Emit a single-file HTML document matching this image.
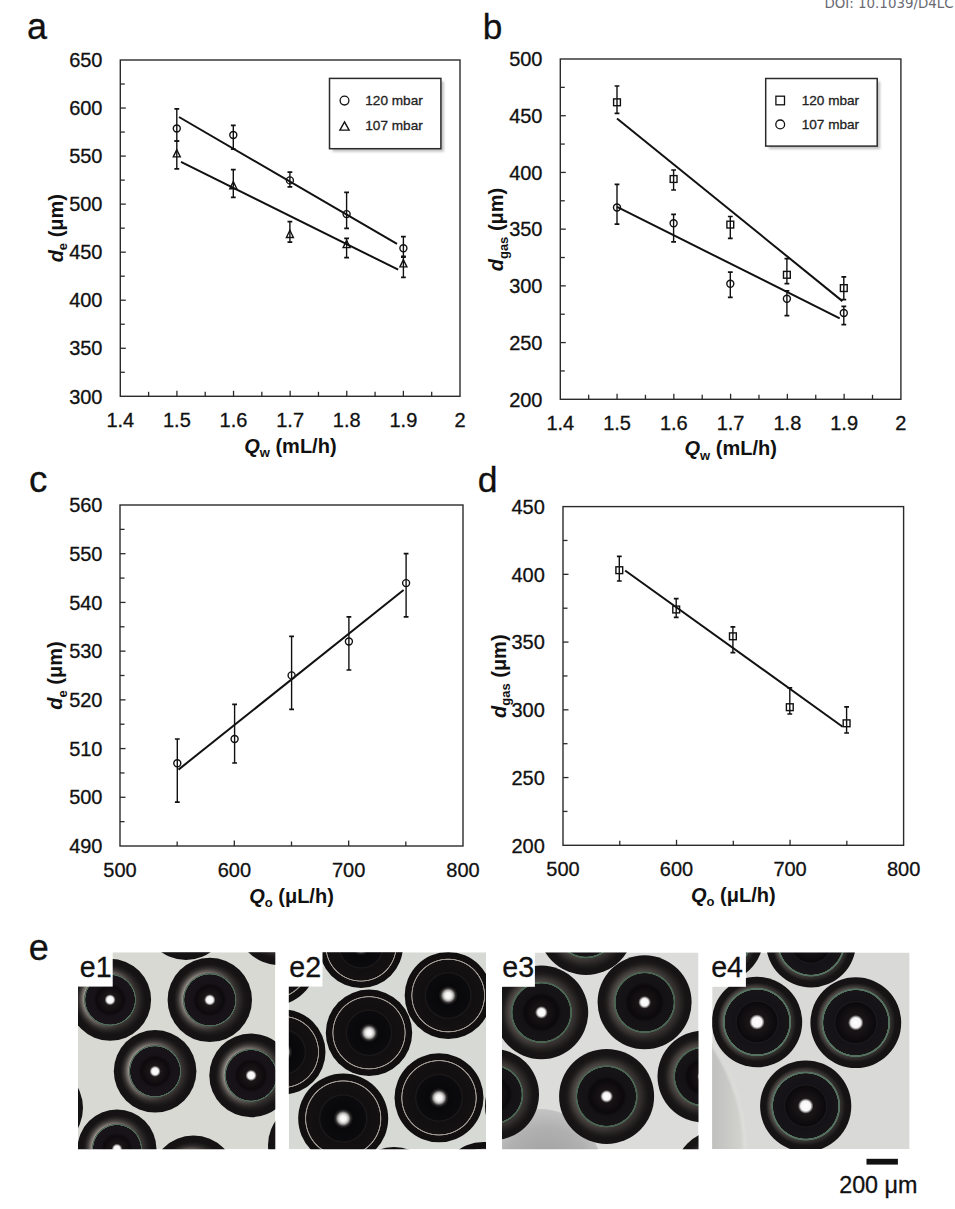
<!DOCTYPE html>
<html><head><meta charset="utf-8"><title>Figure</title>
<style>html,body{margin:0;padding:0;background:#fff;}body{width:955px;height:1209px;overflow:hidden;}svg{display:block;}text{stroke:#111;stroke-width:0.3px;paint-order:stroke;}</style>
</head><body>
<svg width="955" height="1209" viewBox="0 0 955 1209" font-family='"Liberation Sans", Arial, Helvetica, sans-serif' fill="#111">
<defs><filter id="blur" x="-10%" y="-10%" width="120%" height="120%"><feGaussianBlur stdDeviation="1.2"/></filter><linearGradient id="lhl" x1="0" y1="0.3" x2="1" y2="0.7"><stop offset="0.1" stop-color="#fff"/><stop offset="0.7" stop-color="#000"/></linearGradient><mask id="mhl" maskContentUnits="objectBoundingBox"><rect width="1" height="1" fill="url(#lhl)"/></mask><radialGradient id="g1" cx="0.5" cy="0.5" r="0.5"><stop offset="0" stop-color="#ffffff"/><stop offset="0.08" stop-color="#f6f4f4"/><stop offset="0.135" stop-color="#1c1618"/><stop offset="0.33" stop-color="#0d0a0d"/><stop offset="0.4" stop-color="#161217"/><stop offset="0.598" stop-color="#181419"/><stop offset="0.605" stop-color="#506c5a"/><stop offset="0.625" stop-color="#506c5a"/><stop offset="0.635" stop-color="#3a3634"/><stop offset="0.7" stop-color="#2e2a29"/><stop offset="0.78" stop-color="#1f1c1d"/><stop offset="0.86" stop-color="#161314"/><stop offset="1" stop-color="#141213"/></radialGradient><radialGradient id="h1" cx="0.5" cy="0.5" r="0.5"><stop offset="0" stop-color="#b8b0a8" stop-opacity="0"/><stop offset="0.625" stop-color="#b8b0a8" stop-opacity="0"/><stop offset="0.64" stop-color="#c4bcb4" stop-opacity="0.85"/><stop offset="0.69" stop-color="#b0a8a0" stop-opacity="0.55"/><stop offset="0.76" stop-color="#908880" stop-opacity="0.2"/><stop offset="0.84" stop-color="#807870" stop-opacity="0"/><stop offset="1" stop-color="#807870" stop-opacity="0"/></radialGradient><radialGradient id="g2" cx="0.5" cy="0.5" r="0.5"><stop offset="0" stop-color="#ffffff"/><stop offset="0.07" stop-color="#f2f0f0"/><stop offset="0.12" stop-color="#b4b0b0"/><stop offset="0.17" stop-color="#2e2c2c"/><stop offset="0.22" stop-color="#08070a"/><stop offset="0.5" stop-color="#0b0a0d"/><stop offset="0.52" stop-color="#1c1a1a"/><stop offset="0.55" stop-color="#110f10"/><stop offset="0.815" stop-color="#131111"/><stop offset="0.828" stop-color="#9e9893"/><stop offset="0.842" stop-color="#9e9893"/><stop offset="0.855" stop-color="#110f0f"/><stop offset="1" stop-color="#100e0e"/></radialGradient><radialGradient id="g3" cx="0.5" cy="0.5" r="0.5"><stop offset="0" stop-color="#ffffff"/><stop offset="0.08" stop-color="#f6f4f4"/><stop offset="0.135" stop-color="#191416"/><stop offset="0.35" stop-color="#0b090c"/><stop offset="0.42" stop-color="#151216"/><stop offset="0.612" stop-color="#171418"/><stop offset="0.62" stop-color="#4a6552"/><stop offset="0.648" stop-color="#4a6552"/><stop offset="0.658" stop-color="#3a3634"/><stop offset="0.72" stop-color="#312d2c"/><stop offset="0.8" stop-color="#221f1f"/><stop offset="0.88" stop-color="#171415"/><stop offset="1" stop-color="#151314"/></radialGradient><radialGradient id="h3" cx="0.5" cy="0.5" r="0.5"><stop offset="0" stop-color="#a09890" stop-opacity="0"/><stop offset="0.645" stop-color="#a09890" stop-opacity="0"/><stop offset="0.66" stop-color="#908880" stop-opacity="0.4"/><stop offset="0.74" stop-color="#807870" stop-opacity="0.2"/><stop offset="0.82" stop-color="#807870" stop-opacity="0"/><stop offset="1" stop-color="#807870" stop-opacity="0"/></radialGradient><radialGradient id="g4" cx="0.5" cy="0.5" r="0.5"><stop offset="0" stop-color="#ffffff"/><stop offset="0.11" stop-color="#f6f4f4"/><stop offset="0.17" stop-color="#1a1618"/><stop offset="0.44" stop-color="#0b090c"/><stop offset="0.46" stop-color="#1c191b"/><stop offset="0.49" stop-color="#141216"/><stop offset="0.71" stop-color="#181519"/><stop offset="0.718" stop-color="#557260"/><stop offset="0.75" stop-color="#557260"/><stop offset="0.762" stop-color="#332f2f"/><stop offset="0.8" stop-color="#2a2727"/><stop offset="0.87" stop-color="#171415"/><stop offset="1" stop-color="#141213"/></radialGradient><radialGradient id="h4" cx="0.5" cy="0.5" r="0.5"><stop offset="0" stop-color="#a09890" stop-opacity="0"/><stop offset="0.75" stop-color="#a09890" stop-opacity="0"/><stop offset="0.765" stop-color="#8a8078" stop-opacity="0.5"/><stop offset="0.82" stop-color="#807870" stop-opacity="0.2"/><stop offset="0.87" stop-color="#807870" stop-opacity="0"/><stop offset="1" stop-color="#807870" stop-opacity="0"/></radialGradient><radialGradient id="gsh" cx="0.55" cy="0.5" r="0.5"><stop offset="0" stop-color="#9c9c9c"/><stop offset="0.7" stop-color="#b0b0b0"/><stop offset="1" stop-color="#c4c4c4"/></radialGradient><linearGradient id="garc" gradientUnits="userSpaceOnUse" x1="712" y1="0" x2="748" y2="0"><stop offset="0" stop-color="#c0c0be"/><stop offset="0.5" stop-color="#cacac7"/><stop offset="1" stop-color="#d6d6d2"/></linearGradient></defs>
<text x="27" y="39.3" font-size="36">a</text>
<text x="482.8" y="39" font-size="35.2">b</text>
<text x="29" y="492.2" font-size="36.8">c</text>
<text x="477.8" y="492" font-size="35.6">d</text>
<text x="28.7" y="960.3" font-size="36">e</text>
<rect x="120.3" y="60" width="339.70" height="336.30" fill="none" stroke="#2b2b2b" stroke-width="1.4"/>
<line x1="120.3" y1="84.02" x2="124.80" y2="84.02" stroke="#2b2b2b" stroke-width="1.3"/>
<text x="102.5" y="67.20" text-anchor="end" font-size="20">650</text>
<line x1="120.3" y1="108.04" x2="125.80" y2="108.04" stroke="#2b2b2b" stroke-width="1.3"/>
<line x1="120.3" y1="132.06" x2="124.80" y2="132.06" stroke="#2b2b2b" stroke-width="1.3"/>
<text x="102.5" y="115.24" text-anchor="end" font-size="20">600</text>
<line x1="120.3" y1="156.09" x2="125.80" y2="156.09" stroke="#2b2b2b" stroke-width="1.3"/>
<line x1="120.3" y1="180.11" x2="124.80" y2="180.11" stroke="#2b2b2b" stroke-width="1.3"/>
<text x="102.5" y="163.29" text-anchor="end" font-size="20">550</text>
<line x1="120.3" y1="204.13" x2="125.80" y2="204.13" stroke="#2b2b2b" stroke-width="1.3"/>
<line x1="120.3" y1="228.15" x2="124.80" y2="228.15" stroke="#2b2b2b" stroke-width="1.3"/>
<text x="102.5" y="211.33" text-anchor="end" font-size="20">500</text>
<line x1="120.3" y1="252.17" x2="125.80" y2="252.17" stroke="#2b2b2b" stroke-width="1.3"/>
<line x1="120.3" y1="276.19" x2="124.80" y2="276.19" stroke="#2b2b2b" stroke-width="1.3"/>
<text x="102.5" y="259.37" text-anchor="end" font-size="20">450</text>
<line x1="120.3" y1="300.21" x2="125.80" y2="300.21" stroke="#2b2b2b" stroke-width="1.3"/>
<line x1="120.3" y1="324.24" x2="124.80" y2="324.24" stroke="#2b2b2b" stroke-width="1.3"/>
<text x="102.5" y="307.41" text-anchor="end" font-size="20">400</text>
<line x1="120.3" y1="348.26" x2="125.80" y2="348.26" stroke="#2b2b2b" stroke-width="1.3"/>
<line x1="120.3" y1="372.28" x2="124.80" y2="372.28" stroke="#2b2b2b" stroke-width="1.3"/>
<text x="102.5" y="355.46" text-anchor="end" font-size="20">350</text>
<text x="102.5" y="403.50" text-anchor="end" font-size="20">300</text>
<line x1="148.61" y1="396.3" x2="148.61" y2="391.80" stroke="#2b2b2b" stroke-width="1.3"/>
<text x="120.30" y="426.9" text-anchor="middle" font-size="20">1.4</text>
<line x1="176.92" y1="396.3" x2="176.92" y2="390.80" stroke="#2b2b2b" stroke-width="1.3"/>
<line x1="205.22" y1="396.3" x2="205.22" y2="391.80" stroke="#2b2b2b" stroke-width="1.3"/>
<text x="176.92" y="426.9" text-anchor="middle" font-size="20">1.5</text>
<line x1="233.53" y1="396.3" x2="233.53" y2="390.80" stroke="#2b2b2b" stroke-width="1.3"/>
<line x1="261.84" y1="396.3" x2="261.84" y2="391.80" stroke="#2b2b2b" stroke-width="1.3"/>
<text x="233.53" y="426.9" text-anchor="middle" font-size="20">1.6</text>
<line x1="290.15" y1="396.3" x2="290.15" y2="390.80" stroke="#2b2b2b" stroke-width="1.3"/>
<line x1="318.46" y1="396.3" x2="318.46" y2="391.80" stroke="#2b2b2b" stroke-width="1.3"/>
<text x="290.15" y="426.9" text-anchor="middle" font-size="20">1.7</text>
<line x1="346.77" y1="396.3" x2="346.77" y2="390.80" stroke="#2b2b2b" stroke-width="1.3"/>
<line x1="375.07" y1="396.3" x2="375.07" y2="391.80" stroke="#2b2b2b" stroke-width="1.3"/>
<text x="346.77" y="426.9" text-anchor="middle" font-size="20">1.8</text>
<line x1="403.38" y1="396.3" x2="403.38" y2="390.80" stroke="#2b2b2b" stroke-width="1.3"/>
<line x1="431.69" y1="396.3" x2="431.69" y2="391.80" stroke="#2b2b2b" stroke-width="1.3"/>
<text x="403.38" y="426.9" text-anchor="middle" font-size="20">1.9</text>
<text x="460.00" y="426.9" text-anchor="middle" font-size="20">2</text>
<text transform="translate(62.6 228.2) rotate(-90)" text-anchor="middle" font-size="20" font-weight="bold" style="stroke:none"><tspan font-style="italic">d</tspan><tspan font-size="13" dy="4.5">e</tspan><tspan dy="-4.5"> (μm)</tspan></text>
<text x="290.4" y="452.8" text-anchor="middle" font-size="20" font-weight="bold" style="stroke:none"><tspan font-style="italic">Q</tspan><tspan font-size="13" dy="4.5">w</tspan><tspan dy="-4.5"> (mL/h)</tspan></text>
<line x1="179" y1="117" x2="397" y2="243.8" stroke="#111" stroke-width="2"/>
<line x1="181" y1="161.8" x2="398.2" y2="269.7" stroke="#111" stroke-width="2"/>
<path d="M176.80 108.80V141.00" stroke="#111" stroke-width="1.4" fill="none"/>
<path d="M174.40 108.80H179.20M174.40 141.00H179.20" stroke="#111" stroke-width="1.7" fill="none"/>
<circle cx="176.80" cy="128.50" r="3.5" fill="none" stroke="#111" stroke-width="1.4"/>
<path d="M233.30 125.30V149.20" stroke="#111" stroke-width="1.4" fill="none"/>
<path d="M230.90 125.30H235.70M230.90 149.20H235.70" stroke="#111" stroke-width="1.7" fill="none"/>
<circle cx="233.30" cy="135.00" r="3.5" fill="none" stroke="#111" stroke-width="1.4"/>
<path d="M289.90 172.20V186.80" stroke="#111" stroke-width="1.4" fill="none"/>
<path d="M287.50 172.20H292.30M287.50 186.80H292.30" stroke="#111" stroke-width="1.7" fill="none"/>
<circle cx="289.90" cy="180.40" r="3.5" fill="none" stroke="#111" stroke-width="1.4"/>
<path d="M346.60 192.30V228.40" stroke="#111" stroke-width="1.4" fill="none"/>
<path d="M344.20 192.30H349.00M344.20 228.40H349.00" stroke="#111" stroke-width="1.7" fill="none"/>
<circle cx="346.60" cy="214.10" r="3.5" fill="none" stroke="#111" stroke-width="1.4"/>
<path d="M403.40 236.70V256.30" stroke="#111" stroke-width="1.4" fill="none"/>
<path d="M401.00 236.70H405.80M401.00 256.30H405.80" stroke="#111" stroke-width="1.7" fill="none"/>
<circle cx="403.40" cy="248.30" r="3.5" fill="none" stroke="#111" stroke-width="1.4"/>
<path d="M176.80 141.00V168.80" stroke="#111" stroke-width="1.4" fill="none"/>
<path d="M174.40 141.00H179.20M174.40 168.80H179.20" stroke="#111" stroke-width="1.7" fill="none"/>
<path d="M176.80 149.70L180.30 156.90H173.30Z" fill="none" stroke="#111" stroke-width="1.4" stroke-linejoin="miter"/>
<path d="M233.30 169.60V197.40" stroke="#111" stroke-width="1.4" fill="none"/>
<path d="M230.90 169.60H235.70M230.90 197.40H235.70" stroke="#111" stroke-width="1.7" fill="none"/>
<path d="M233.30 181.60L236.80 188.80H229.80Z" fill="none" stroke="#111" stroke-width="1.4" stroke-linejoin="miter"/>
<path d="M289.90 221.60V242.10" stroke="#111" stroke-width="1.4" fill="none"/>
<path d="M287.50 221.60H292.30M287.50 242.10H292.30" stroke="#111" stroke-width="1.7" fill="none"/>
<path d="M289.90 230.30L293.40 237.50H286.40Z" fill="none" stroke="#111" stroke-width="1.4" stroke-linejoin="miter"/>
<path d="M346.60 238.40V257.70" stroke="#111" stroke-width="1.4" fill="none"/>
<path d="M344.20 238.40H349.00M344.20 257.70H349.00" stroke="#111" stroke-width="1.7" fill="none"/>
<path d="M346.60 240.40L350.10 247.60H343.10Z" fill="none" stroke="#111" stroke-width="1.4" stroke-linejoin="miter"/>
<path d="M403.40 257.20V277.30" stroke="#111" stroke-width="1.4" fill="none"/>
<path d="M401.00 257.20H405.80M401.00 277.30H405.80" stroke="#111" stroke-width="1.7" fill="none"/>
<path d="M403.40 259.70L406.90 266.90H399.90Z" fill="none" stroke="#111" stroke-width="1.4" stroke-linejoin="miter"/>
<rect x="332.5" y="81.4" width="111.39999999999998" height="70.29999999999998" fill="#c4c4c4" filter="url(#blur)"/>
<rect x="329.5" y="78.4" width="111.39999999999998" height="70.29999999999998" fill="#fff" stroke="#2b2b2b" stroke-width="1.5"/>
<circle cx="344.5" cy="100.6" r="4.4" fill="none" stroke="#111" stroke-width="1.3"/>
<text x="365.3" y="104.8" font-size="13.6" fill="#222">120 mbar</text>
<path d="M344.5 121.9L349.1 130.1H339.9Z" fill="none" stroke="#111" stroke-width="1.4"/>
<text x="365.3" y="129.9" font-size="13.6" fill="#222">107 mbar</text>
<rect x="560.3" y="59" width="340.60" height="340.30" fill="none" stroke="#2b2b2b" stroke-width="1.4"/>
<line x1="560.3" y1="87.36" x2="564.80" y2="87.36" stroke="#2b2b2b" stroke-width="1.3"/>
<text x="542.5" y="66.20" text-anchor="end" font-size="20">500</text>
<line x1="560.3" y1="115.72" x2="565.80" y2="115.72" stroke="#2b2b2b" stroke-width="1.3"/>
<line x1="560.3" y1="144.07" x2="564.80" y2="144.07" stroke="#2b2b2b" stroke-width="1.3"/>
<text x="542.5" y="122.92" text-anchor="end" font-size="20">450</text>
<line x1="560.3" y1="172.43" x2="565.80" y2="172.43" stroke="#2b2b2b" stroke-width="1.3"/>
<line x1="560.3" y1="200.79" x2="564.80" y2="200.79" stroke="#2b2b2b" stroke-width="1.3"/>
<text x="542.5" y="179.63" text-anchor="end" font-size="20">400</text>
<line x1="560.3" y1="229.15" x2="565.80" y2="229.15" stroke="#2b2b2b" stroke-width="1.3"/>
<line x1="560.3" y1="257.51" x2="564.80" y2="257.51" stroke="#2b2b2b" stroke-width="1.3"/>
<text x="542.5" y="236.35" text-anchor="end" font-size="20">350</text>
<line x1="560.3" y1="285.87" x2="565.80" y2="285.87" stroke="#2b2b2b" stroke-width="1.3"/>
<line x1="560.3" y1="314.23" x2="564.80" y2="314.23" stroke="#2b2b2b" stroke-width="1.3"/>
<text x="542.5" y="293.07" text-anchor="end" font-size="20">300</text>
<line x1="560.3" y1="342.58" x2="565.80" y2="342.58" stroke="#2b2b2b" stroke-width="1.3"/>
<line x1="560.3" y1="370.94" x2="564.80" y2="370.94" stroke="#2b2b2b" stroke-width="1.3"/>
<text x="542.5" y="349.78" text-anchor="end" font-size="20">250</text>
<text x="542.5" y="406.50" text-anchor="end" font-size="20">200</text>
<line x1="588.68" y1="399.3" x2="588.68" y2="394.80" stroke="#2b2b2b" stroke-width="1.3"/>
<text x="560.30" y="429.9" text-anchor="middle" font-size="20">1.4</text>
<line x1="617.07" y1="399.3" x2="617.07" y2="393.80" stroke="#2b2b2b" stroke-width="1.3"/>
<line x1="645.45" y1="399.3" x2="645.45" y2="394.80" stroke="#2b2b2b" stroke-width="1.3"/>
<text x="617.07" y="429.9" text-anchor="middle" font-size="20">1.5</text>
<line x1="673.83" y1="399.3" x2="673.83" y2="393.80" stroke="#2b2b2b" stroke-width="1.3"/>
<line x1="702.22" y1="399.3" x2="702.22" y2="394.80" stroke="#2b2b2b" stroke-width="1.3"/>
<text x="673.83" y="429.9" text-anchor="middle" font-size="20">1.6</text>
<line x1="730.60" y1="399.3" x2="730.60" y2="393.80" stroke="#2b2b2b" stroke-width="1.3"/>
<line x1="758.98" y1="399.3" x2="758.98" y2="394.80" stroke="#2b2b2b" stroke-width="1.3"/>
<text x="730.60" y="429.9" text-anchor="middle" font-size="20">1.7</text>
<line x1="787.37" y1="399.3" x2="787.37" y2="393.80" stroke="#2b2b2b" stroke-width="1.3"/>
<line x1="815.75" y1="399.3" x2="815.75" y2="394.80" stroke="#2b2b2b" stroke-width="1.3"/>
<text x="787.37" y="429.9" text-anchor="middle" font-size="20">1.8</text>
<line x1="844.13" y1="399.3" x2="844.13" y2="393.80" stroke="#2b2b2b" stroke-width="1.3"/>
<line x1="872.52" y1="399.3" x2="872.52" y2="394.80" stroke="#2b2b2b" stroke-width="1.3"/>
<text x="844.13" y="429.9" text-anchor="middle" font-size="20">1.9</text>
<text x="900.90" y="429.9" text-anchor="middle" font-size="20">2</text>
<text transform="translate(503.2 229.5) rotate(-90)" text-anchor="middle" font-size="20" font-weight="bold" style="stroke:none"><tspan font-style="italic">d</tspan><tspan font-size="13" dy="4.5">gas</tspan><tspan dy="-4.5"> (μm)</tspan></text>
<text x="730.7" y="455.3" text-anchor="middle" font-size="20" font-weight="bold" style="stroke:none"><tspan font-style="italic">Q</tspan><tspan font-size="13" dy="4.5">w</tspan><tspan dy="-4.5"> (mL/h)</tspan></text>
<line x1="617" y1="118.5" x2="842.4" y2="301.1" stroke="#111" stroke-width="2"/>
<line x1="617" y1="206.8" x2="839.7" y2="318.4" stroke="#111" stroke-width="2"/>
<path d="M617.00 86.00V113.30" stroke="#111" stroke-width="1.4" fill="none"/>
<path d="M614.60 86.00H619.40M614.60 113.30H619.40" stroke="#111" stroke-width="1.7" fill="none"/>
<rect x="613.60" y="98.90" width="6.80" height="6.80" fill="none" stroke="#111" stroke-width="1.4"/>
<path d="M673.60 170.00V190.00" stroke="#111" stroke-width="1.4" fill="none"/>
<path d="M671.20 170.00H676.00M671.20 190.00H676.00" stroke="#111" stroke-width="1.7" fill="none"/>
<rect x="670.20" y="175.60" width="6.80" height="6.80" fill="none" stroke="#111" stroke-width="1.4"/>
<path d="M730.30 216.50V238.30" stroke="#111" stroke-width="1.4" fill="none"/>
<path d="M727.90 216.50H732.70M727.90 238.30H732.70" stroke="#111" stroke-width="1.7" fill="none"/>
<rect x="726.90" y="221.20" width="6.80" height="6.80" fill="none" stroke="#111" stroke-width="1.4"/>
<path d="M786.90 258.70V283.70" stroke="#111" stroke-width="1.4" fill="none"/>
<path d="M784.50 258.70H789.30M784.50 283.70H789.30" stroke="#111" stroke-width="1.7" fill="none"/>
<rect x="783.50" y="271.40" width="6.80" height="6.80" fill="none" stroke="#111" stroke-width="1.4"/>
<path d="M843.80 276.90V299.70" stroke="#111" stroke-width="1.4" fill="none"/>
<path d="M841.40 276.90H846.20M841.40 299.70H846.20" stroke="#111" stroke-width="1.7" fill="none"/>
<rect x="840.40" y="284.70" width="6.80" height="6.80" fill="none" stroke="#111" stroke-width="1.4"/>
<path d="M617.00 184.40V224.20" stroke="#111" stroke-width="1.4" fill="none"/>
<path d="M614.60 184.40H619.40M614.60 224.20H619.40" stroke="#111" stroke-width="1.7" fill="none"/>
<circle cx="617.00" cy="207.50" r="3.5" fill="none" stroke="#111" stroke-width="1.4"/>
<path d="M673.60 214.30V241.80" stroke="#111" stroke-width="1.4" fill="none"/>
<path d="M671.20 214.30H676.00M671.20 241.80H676.00" stroke="#111" stroke-width="1.7" fill="none"/>
<circle cx="673.60" cy="223.20" r="3.5" fill="none" stroke="#111" stroke-width="1.4"/>
<path d="M730.30 272.10V297.40" stroke="#111" stroke-width="1.4" fill="none"/>
<path d="M727.90 272.10H732.70M727.90 297.40H732.70" stroke="#111" stroke-width="1.7" fill="none"/>
<circle cx="730.30" cy="283.70" r="3.5" fill="none" stroke="#111" stroke-width="1.4"/>
<path d="M786.90 290.80V315.70" stroke="#111" stroke-width="1.4" fill="none"/>
<path d="M784.50 290.80H789.30M784.50 315.70H789.30" stroke="#111" stroke-width="1.7" fill="none"/>
<circle cx="786.90" cy="298.80" r="3.5" fill="none" stroke="#111" stroke-width="1.4"/>
<path d="M843.80 306.40V324.60" stroke="#111" stroke-width="1.4" fill="none"/>
<path d="M841.40 306.40H846.20M841.40 324.60H846.20" stroke="#111" stroke-width="1.7" fill="none"/>
<circle cx="843.80" cy="313.00" r="3.5" fill="none" stroke="#111" stroke-width="1.4"/>
<rect x="768.7" y="81.5" width="111.5" height="67.6" fill="#c4c4c4" filter="url(#blur)"/>
<rect x="765.7" y="78.5" width="111.5" height="67.6" fill="#fff" stroke="#2b2b2b" stroke-width="1.5"/>
<rect x="775.9000000000001" y="96.2" width="8.6" height="8.6" fill="none" stroke="#111" stroke-width="1.3"/>
<text x="801.7" y="104.8" font-size="13.6" fill="#222">120 mbar</text>
<circle cx="780.2" cy="124.4" r="4.4" fill="none" stroke="#111" stroke-width="1.3"/>
<text x="801.7" y="129.1" font-size="13.6" fill="#222">107 mbar</text>
<rect x="120" y="505" width="343.00" height="341.00" fill="none" stroke="#2b2b2b" stroke-width="1.4"/>
<line x1="120" y1="529.36" x2="124.50" y2="529.36" stroke="#2b2b2b" stroke-width="1.3"/>
<text x="102.5" y="512.20" text-anchor="end" font-size="20">560</text>
<line x1="120" y1="553.71" x2="125.50" y2="553.71" stroke="#2b2b2b" stroke-width="1.3"/>
<line x1="120" y1="578.07" x2="124.50" y2="578.07" stroke="#2b2b2b" stroke-width="1.3"/>
<text x="102.5" y="560.91" text-anchor="end" font-size="20">550</text>
<line x1="120" y1="602.43" x2="125.50" y2="602.43" stroke="#2b2b2b" stroke-width="1.3"/>
<line x1="120" y1="626.79" x2="124.50" y2="626.79" stroke="#2b2b2b" stroke-width="1.3"/>
<text x="102.5" y="609.63" text-anchor="end" font-size="20">540</text>
<line x1="120" y1="651.14" x2="125.50" y2="651.14" stroke="#2b2b2b" stroke-width="1.3"/>
<line x1="120" y1="675.50" x2="124.50" y2="675.50" stroke="#2b2b2b" stroke-width="1.3"/>
<text x="102.5" y="658.34" text-anchor="end" font-size="20">530</text>
<line x1="120" y1="699.86" x2="125.50" y2="699.86" stroke="#2b2b2b" stroke-width="1.3"/>
<line x1="120" y1="724.21" x2="124.50" y2="724.21" stroke="#2b2b2b" stroke-width="1.3"/>
<text x="102.5" y="707.06" text-anchor="end" font-size="20">520</text>
<line x1="120" y1="748.57" x2="125.50" y2="748.57" stroke="#2b2b2b" stroke-width="1.3"/>
<line x1="120" y1="772.93" x2="124.50" y2="772.93" stroke="#2b2b2b" stroke-width="1.3"/>
<text x="102.5" y="755.77" text-anchor="end" font-size="20">510</text>
<line x1="120" y1="797.29" x2="125.50" y2="797.29" stroke="#2b2b2b" stroke-width="1.3"/>
<line x1="120" y1="821.64" x2="124.50" y2="821.64" stroke="#2b2b2b" stroke-width="1.3"/>
<text x="102.5" y="804.49" text-anchor="end" font-size="20">500</text>
<text x="102.5" y="853.20" text-anchor="end" font-size="20">490</text>
<line x1="177.17" y1="846" x2="177.17" y2="841.50" stroke="#2b2b2b" stroke-width="1.3"/>
<text x="120.00" y="877.1" text-anchor="middle" font-size="20">500</text>
<line x1="234.33" y1="846" x2="234.33" y2="840.50" stroke="#2b2b2b" stroke-width="1.3"/>
<line x1="291.50" y1="846" x2="291.50" y2="841.50" stroke="#2b2b2b" stroke-width="1.3"/>
<text x="234.33" y="877.1" text-anchor="middle" font-size="20">600</text>
<line x1="348.67" y1="846" x2="348.67" y2="840.50" stroke="#2b2b2b" stroke-width="1.3"/>
<line x1="405.83" y1="846" x2="405.83" y2="841.50" stroke="#2b2b2b" stroke-width="1.3"/>
<text x="348.67" y="877.1" text-anchor="middle" font-size="20">700</text>
<text x="463.00" y="877.1" text-anchor="middle" font-size="20">800</text>
<text transform="translate(62.2 675.5) rotate(-90)" text-anchor="middle" font-size="20" font-weight="bold" style="stroke:none"><tspan font-style="italic">d</tspan><tspan font-size="13" dy="4.5">e</tspan><tspan dy="-4.5"> (μm)</tspan></text>
<text x="291.5" y="902.5" text-anchor="middle" font-size="20" font-weight="bold" style="stroke:none"><tspan font-style="italic">Q</tspan><tspan font-size="13" dy="4.5">o</tspan><tspan dy="-4.5"> (μL/h)</tspan></text>
<line x1="178.5" y1="769.6" x2="403.6" y2="590" stroke="#111" stroke-width="2"/>
<path d="M177.30 739.00V802.10" stroke="#111" stroke-width="1.4" fill="none"/>
<path d="M174.90 739.00H179.70M174.90 802.10H179.70" stroke="#111" stroke-width="1.7" fill="none"/>
<circle cx="177.30" cy="763.30" r="3.5" fill="none" stroke="#111" stroke-width="1.4"/>
<path d="M234.60 704.40V763.00" stroke="#111" stroke-width="1.4" fill="none"/>
<path d="M232.20 704.40H237.00M232.20 763.00H237.00" stroke="#111" stroke-width="1.7" fill="none"/>
<circle cx="234.60" cy="739.00" r="3.5" fill="none" stroke="#111" stroke-width="1.4"/>
<path d="M291.60 636.40V709.30" stroke="#111" stroke-width="1.4" fill="none"/>
<path d="M289.20 636.40H294.00M289.20 709.30H294.00" stroke="#111" stroke-width="1.7" fill="none"/>
<circle cx="291.60" cy="675.40" r="3.5" fill="none" stroke="#111" stroke-width="1.4"/>
<path d="M348.90 616.90V670.00" stroke="#111" stroke-width="1.4" fill="none"/>
<path d="M346.50 616.90H351.30M346.50 670.00H351.30" stroke="#111" stroke-width="1.7" fill="none"/>
<circle cx="348.90" cy="641.50" r="3.5" fill="none" stroke="#111" stroke-width="1.4"/>
<path d="M406.10 553.60V616.80" stroke="#111" stroke-width="1.4" fill="none"/>
<path d="M403.70 553.60H408.50M403.70 616.80H408.50" stroke="#111" stroke-width="1.7" fill="none"/>
<circle cx="406.10" cy="583.10" r="3.5" fill="none" stroke="#111" stroke-width="1.4"/>
<rect x="563" y="506.6" width="340.60" height="338.70" fill="none" stroke="#2b2b2b" stroke-width="1.4"/>
<line x1="563" y1="540.47" x2="567.50" y2="540.47" stroke="#2b2b2b" stroke-width="1.3"/>
<text x="544.8" y="513.80" text-anchor="end" font-size="20">450</text>
<line x1="563" y1="574.34" x2="568.50" y2="574.34" stroke="#2b2b2b" stroke-width="1.3"/>
<line x1="563" y1="608.21" x2="567.50" y2="608.21" stroke="#2b2b2b" stroke-width="1.3"/>
<text x="544.8" y="581.54" text-anchor="end" font-size="20">400</text>
<line x1="563" y1="642.08" x2="568.50" y2="642.08" stroke="#2b2b2b" stroke-width="1.3"/>
<line x1="563" y1="675.95" x2="567.50" y2="675.95" stroke="#2b2b2b" stroke-width="1.3"/>
<text x="544.8" y="649.28" text-anchor="end" font-size="20">350</text>
<line x1="563" y1="709.82" x2="568.50" y2="709.82" stroke="#2b2b2b" stroke-width="1.3"/>
<line x1="563" y1="743.69" x2="567.50" y2="743.69" stroke="#2b2b2b" stroke-width="1.3"/>
<text x="544.8" y="717.02" text-anchor="end" font-size="20">300</text>
<line x1="563" y1="777.56" x2="568.50" y2="777.56" stroke="#2b2b2b" stroke-width="1.3"/>
<line x1="563" y1="811.43" x2="567.50" y2="811.43" stroke="#2b2b2b" stroke-width="1.3"/>
<text x="544.8" y="784.76" text-anchor="end" font-size="20">250</text>
<text x="544.8" y="852.50" text-anchor="end" font-size="20">200</text>
<line x1="619.77" y1="845.3" x2="619.77" y2="840.80" stroke="#2b2b2b" stroke-width="1.3"/>
<text x="563.00" y="876.0" text-anchor="middle" font-size="20">500</text>
<line x1="676.53" y1="845.3" x2="676.53" y2="839.80" stroke="#2b2b2b" stroke-width="1.3"/>
<line x1="733.30" y1="845.3" x2="733.30" y2="840.80" stroke="#2b2b2b" stroke-width="1.3"/>
<text x="676.53" y="876.0" text-anchor="middle" font-size="20">600</text>
<line x1="790.07" y1="845.3" x2="790.07" y2="839.80" stroke="#2b2b2b" stroke-width="1.3"/>
<line x1="846.83" y1="845.3" x2="846.83" y2="840.80" stroke="#2b2b2b" stroke-width="1.3"/>
<text x="790.07" y="876.0" text-anchor="middle" font-size="20">700</text>
<text x="903.60" y="876.0" text-anchor="middle" font-size="20">800</text>
<text transform="translate(505.6 676.2) rotate(-90)" text-anchor="middle" font-size="20" font-weight="bold" style="stroke:none"><tspan font-style="italic">d</tspan><tspan font-size="13" dy="4.5">gas</tspan><tspan dy="-4.5"> (μm)</tspan></text>
<text x="733.3" y="901.8" text-anchor="middle" font-size="20" font-weight="bold" style="stroke:none"><tspan font-style="italic">Q</tspan><tspan font-size="13" dy="4.5">o</tspan><tspan dy="-4.5"> (μL/h)</tspan></text>
<line x1="625.1" y1="570.5" x2="842.6" y2="726.7" stroke="#111" stroke-width="2"/>
<path d="M619.30 556.40V581.00" stroke="#111" stroke-width="1.4" fill="none"/>
<path d="M616.90 556.40H621.70M616.90 581.00H621.70" stroke="#111" stroke-width="1.7" fill="none"/>
<rect x="615.90" y="566.80" width="6.80" height="6.80" fill="none" stroke="#111" stroke-width="1.4"/>
<path d="M676.20 598.60V617.40" stroke="#111" stroke-width="1.4" fill="none"/>
<path d="M673.80 598.60H678.60M673.80 617.40H678.60" stroke="#111" stroke-width="1.7" fill="none"/>
<rect x="672.80" y="606.10" width="6.80" height="6.80" fill="none" stroke="#111" stroke-width="1.4"/>
<path d="M732.90 626.80V652.60" stroke="#111" stroke-width="1.4" fill="none"/>
<path d="M730.50 626.80H735.30M730.50 652.60H735.30" stroke="#111" stroke-width="1.7" fill="none"/>
<rect x="729.50" y="632.90" width="6.80" height="6.80" fill="none" stroke="#111" stroke-width="1.4"/>
<path d="M789.80 687.90V714.00" stroke="#111" stroke-width="1.4" fill="none"/>
<path d="M787.40 687.90H792.20M787.40 714.00H792.20" stroke="#111" stroke-width="1.7" fill="none"/>
<rect x="786.40" y="703.80" width="6.80" height="6.80" fill="none" stroke="#111" stroke-width="1.4"/>
<path d="M846.60 706.90V733.00" stroke="#111" stroke-width="1.4" fill="none"/>
<path d="M844.20 706.90H849.00M844.20 733.00H849.00" stroke="#111" stroke-width="1.7" fill="none"/>
<rect x="843.20" y="719.90" width="6.80" height="6.80" fill="none" stroke="#111" stroke-width="1.4"/>
<clipPath id="clipe1"><rect x="78" y="952.3" width="197.3" height="196.9"/></clipPath>
<g clip-path="url(#clipe1)"><rect x="78" y="952.3" width="197.3" height="196.9" fill="#d8d9d3"/>
<circle cx="110.1" cy="999.8" r="41" fill="url(#g1)"/>
<circle cx="110.1" cy="999.8" r="41" fill="url(#h1)" mask="url(#mhl)"/>
<circle cx="209.8" cy="999.9" r="42.2" fill="url(#g1)"/>
<circle cx="209.8" cy="999.9" r="42.2" fill="url(#h1)" mask="url(#mhl)"/>
<circle cx="155.1" cy="1071.3" r="41.3" fill="url(#g1)"/>
<circle cx="155.1" cy="1071.3" r="41.3" fill="url(#h1)" mask="url(#mhl)"/>
<circle cx="251.1" cy="1075.4" r="41.8" fill="url(#g1)"/>
<circle cx="251.1" cy="1075.4" r="41.8" fill="url(#h1)" mask="url(#mhl)"/>
<circle cx="117" cy="1149" r="39.5" fill="url(#g1)"/>
<circle cx="117" cy="1149" r="39.5" fill="url(#h1)" mask="url(#mhl)"/>
<circle cx="193.5" cy="1178" r="42.5" fill="url(#g1)"/>
<circle cx="193.5" cy="1178" r="42.5" fill="url(#h1)" mask="url(#mhl)"/>
<circle cx="40" cy="1108" r="43" fill="url(#g1)"/>
<circle cx="40" cy="1108" r="43" fill="url(#h1)" mask="url(#mhl)"/>
<circle cx="186" cy="917.5" r="42.5" fill="url(#g1)"/>
<circle cx="186" cy="917.5" r="42.5" fill="url(#h1)" mask="url(#mhl)"/>
<circle cx="279" cy="922" r="43" fill="url(#g1)"/>
<circle cx="279" cy="922" r="43" fill="url(#h1)" mask="url(#mhl)"/>
<circle cx="310" cy="1145" r="42" fill="url(#g1)"/>
<circle cx="310" cy="1145" r="42" fill="url(#h1)" mask="url(#mhl)"/>
</g>
<rect x="76.5" y="950.8" width="36.2" height="35.8" fill="#fff"/>
<text x="79.8" y="976.5999999999999" font-size="28.6">e1</text>
<clipPath id="clipe2"><rect x="288.8" y="952.3" width="197.2" height="196.9"/></clipPath>
<g clip-path="url(#clipe2)"><rect x="288.8" y="952.3" width="197.2" height="196.9" fill="#d7d9d5"/>
<circle cx="361" cy="946" r="42" fill="url(#g2)"/>
<circle cx="448.2" cy="995.5" r="43.5" fill="url(#g2)"/>
<circle cx="369" cy="1032.8" r="43.2" fill="url(#g2)"/>
<circle cx="283" cy="1052" r="42.5" fill="url(#g2)"/>
<circle cx="343.2" cy="1118.5" r="45" fill="url(#g2)"/>
<circle cx="439" cy="1097.8" r="44.5" fill="url(#g2)"/>
<circle cx="272" cy="961" r="45" fill="url(#g2)"/>
<circle cx="394" cy="1191" r="44" fill="url(#g2)"/>
<circle cx="483.5" cy="1186" r="44" fill="url(#g2)"/>
<circle cx="530" cy="1106" r="45" fill="url(#g2)"/>
</g>
<rect x="287.3" y="950.8" width="35.2" height="35.8" fill="#fff"/>
<text x="289.3" y="976.5999999999999" font-size="28.6">e2</text>
<clipPath id="clipe3"><rect x="502" y="952.5" width="196.5" height="196.7"/></clipPath>
<g clip-path="url(#clipe3)"><rect x="502" y="952.5" width="196.5" height="196.7" fill="#dcdcdb"/><circle cx="540" cy="1171" r="62" fill="url(#gsh)"/>
<circle cx="586" cy="927" r="48" fill="url(#g3)"/>
<circle cx="586" cy="927" r="48" fill="url(#h3)" mask="url(#mhl)"/>
<circle cx="541.4" cy="1012.4" r="46.8" fill="url(#g3)"/>
<circle cx="541.4" cy="1012.4" r="46.8" fill="url(#h3)" mask="url(#mhl)"/>
<circle cx="644.6" cy="1002.3" r="47" fill="url(#g3)"/>
<circle cx="644.6" cy="1002.3" r="47" fill="url(#h3)" mask="url(#mhl)"/>
<circle cx="606.6" cy="1096.4" r="47.5" fill="url(#g3)"/>
<circle cx="606.6" cy="1096.4" r="47.5" fill="url(#h3)" mask="url(#mhl)"/>
<circle cx="493.5" cy="1094.5" r="45.5" fill="url(#g3)"/>
<circle cx="493.5" cy="1094.5" r="45.5" fill="url(#h3)" mask="url(#mhl)"/>
<circle cx="703.5" cy="1076.5" r="46" fill="url(#g3)"/>
<circle cx="703.5" cy="1076.5" r="46" fill="url(#h3)" mask="url(#mhl)"/>
<circle cx="720" cy="1176" r="46" fill="url(#g3)"/>
<circle cx="720" cy="1176" r="46" fill="url(#h3)" mask="url(#mhl)"/>
</g>
<rect x="500.5" y="951.0" width="34.4" height="35.8" fill="#fff"/>
<text x="502.3" y="976.8" font-size="28.6">e3</text>
<clipPath id="clipe4"><rect x="712.2" y="952.5" width="197.4" height="196.6"/></clipPath>
<g clip-path="url(#clipe4)"><rect x="712.2" y="952.5" width="197.4" height="196.6" fill="#d9d9d7"/><circle cx="560" cy="1150" r="186" fill="url(#garc)"/><circle cx="560" cy="1150" r="185" fill="none" stroke="#dfdfdc" stroke-width="3" filter="url(#blur)"/>
<circle cx="811" cy="942.5" r="45" fill="url(#g4)"/>
<circle cx="811" cy="942.5" r="45" fill="url(#h4)" mask="url(#mhl)"/>
<circle cx="718" cy="937" r="45.5" fill="url(#g4)"/>
<circle cx="718" cy="937" r="45.5" fill="url(#h4)" mask="url(#mhl)"/>
<circle cx="757" cy="1022" r="45.2" fill="url(#g4)"/>
<circle cx="757" cy="1022" r="45.2" fill="url(#h4)" mask="url(#mhl)"/>
<circle cx="855.8" cy="1022.7" r="45.4" fill="url(#g4)"/>
<circle cx="855.8" cy="1022.7" r="45.4" fill="url(#h4)" mask="url(#mhl)"/>
<circle cx="805.7" cy="1106" r="45.6" fill="url(#g4)"/>
<circle cx="805.7" cy="1106" r="45.6" fill="url(#h4)" mask="url(#mhl)"/>
</g>
<rect x="710.7" y="951.0" width="35.2" height="35.8" fill="#fff"/>
<text x="711.2" y="976.8" font-size="28.6">e4</text>
<rect x="866.5" y="1158.8" width="31.4" height="5.8" fill="#111"/>
<text x="878.3" y="1193.3" text-anchor="middle" font-size="23.3" fill="#111">200 μm</text>
<text x="824.5" y="7.7" font-size="13.4" fill="#6a6a72" style="stroke:none" font-family="'DejaVu Sans', sans-serif">DOI: 10.1039/D4LC</text>
</svg>
</body></html>
